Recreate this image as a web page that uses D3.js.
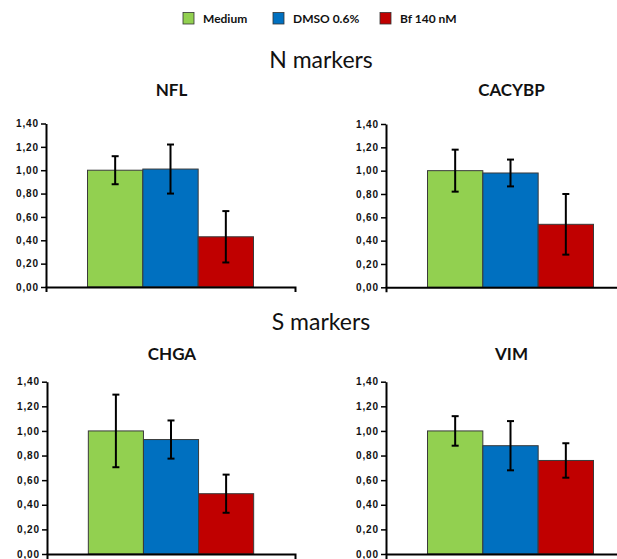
<!DOCTYPE html>
<html>
<head>
<meta charset="utf-8">
<script src="https://cdn.jsdelivr.net/npm/d3@7"></script>
<style>
  html, body { margin: 0; padding: 0; background: #fff; }
  svg { display: block; }
</style>
</head>
<body>
<script>
// Relative expression of neuronal (N) and substrate-adherent (S) markers
const seriesNames = ["Medium", "DMSO 0.6%", "Bf 140 nM"];
const seriesColors = ["#92d050", "#0070c0", "#c00000"];
const markers = ["NFL", "CACYBP", "CHGA", "VIM"];
const groupTitles = ["N markers", "S markers"];

// Mean fold change per marker, one array per condition
const mediumMean = [1.00, 1.00, 1.00, 1.00];
const dmsoMean   = [1.01, 0.98, 0.93, 0.88];
const bfMean     = [0.43, 0.54, 0.49, 0.76];
// Standard deviation per marker
const mediumSd = [0.12, 0.18, 0.295, 0.12];
const dmsoSd   = [0.21, 0.115, 0.155, 0.20];
const bfSd     = [0.22, 0.26, 0.155, 0.14];

const yTicks = [0, 0.2, 0.4, 0.6, 0.8, 1.0, 1.2, 1.4];

const W = 617, H = 559;
const svg = d3.select("body").append("svg").attr("width", W).attr("height", H);

const titleFont = "Lato, 'Open Sans', sans-serif";
const tickFont = "'Liberation Sans', Arial, sans-serif";

// Legend
const legendX = [183, 273, 380];
const legend = svg.append("g");
seriesNames.forEach((name, i) => {
  legend.append("rect")
    .attr("x", legendX[i]).attr("y", 12.5).attr("width", 11).attr("height", 11.5)
    .attr("fill", seriesColors[i]).attr("stroke", "#333").attr("stroke-width", 0.8);
  legend.append("text")
    .attr("x", legendX[i] + 20).attr("y", 22.5)
    .attr("font-family", titleFont).attr("font-weight", "bold")
    .attr("font-size", 12).attr("fill", "#111").text(name);
});

// Section titles
[68, 330].forEach((y, i) => {
  svg.append("text").attr("x", 321).attr("y", y).attr("text-anchor", "middle")
    .attr("font-family", titleFont).attr("font-size", 23)
    .attr("fill", "#111").text(groupTitles[i]);
});

// Plot area for each marker
const panels = [
  { x0: 46, x1: 295, yTop: 123.5, yBot: 287, titleY: 96 },
  { x0: 386, x1: 635, yTop: 124, yBot: 287.3, titleY: 96 },
  { x0: 47, x1: 295, yTop: 381.7, yBot: 554, titleY: 360 },
  { x0: 386, x1: 635, yTop: 381.7, yBot: 554, titleY: 360 }
];

const means = [mediumMean, dmsoMean, bfMean];
const sds = [mediumSd, dmsoSd, bfSd];

markers.forEach((marker, m) => {
  const p = panels[m];
  const g = svg.append("g");

  const y = d3.scaleLinear().domain([0, 1.4]).range([p.yBot, p.yTop]);
  const xOuter = d3.scaleBand().domain([marker]).range([p.x0, p.x1]).paddingOuter(0.2).paddingInner(0.2);
  const xInner = d3.scaleBand().domain(seriesNames).range([0, xOuter.bandwidth()]);

  const rows = seriesNames.map((s, i) => ({ s, i, v: means[i][m], sd: sds[i][m] }));

  // Bars
  g.selectAll("rect.bar").data(rows).join("rect")
    .attr("class", "bar")
    .attr("x", d => xOuter(marker) + xInner(d.s))
    .attr("width", xInner.bandwidth())
    .attr("y", d => y(d.v))
    .attr("height", d => y(0) - y(d.v))
    .attr("fill", d => seriesColors[d.i])
    .attr("stroke", "#3a3a3a").attr("stroke-width", 1);

  // Error bars (mean ± SD)
  const cx = d => xOuter(marker) + xInner(d.s) + xInner.bandwidth() / 2;
  const eb = g.selectAll("g.err").data(rows).join("g").attr("class", "err")
    .attr("stroke", "#000").attr("stroke-width", 2);
  eb.append("line").attr("x1", cx).attr("x2", cx)
    .attr("y1", d => y(d.v + d.sd)).attr("y2", d => y(d.v - d.sd));
  eb.append("line").attr("x1", d => cx(d) - 3.5).attr("x2", d => cx(d) + 3.5)
    .attr("y1", d => y(d.v + d.sd)).attr("y2", d => y(d.v + d.sd));
  eb.append("line").attr("x1", d => cx(d) - 3.5).attr("x2", d => cx(d) + 3.5)
    .attr("y1", d => y(d.v - d.sd)).attr("y2", d => y(d.v - d.sd));

  // Y axis
  const yAxis = d3.axisLeft(y).tickValues(yTicks)
    .tickFormat(d => d3.format(".2f")(d).replace(".", ","))
    .tickSize(5).tickPadding(2).tickSizeOuter(0);
  const ya = g.append("g").attr("transform", `translate(${p.x0},0)`).call(yAxis);
  ya.select(".domain").attr("stroke", "#000").attr("stroke-width", 2);
  ya.selectAll(".tick line").attr("stroke", "#000").attr("stroke-width", 1.5);
  ya.selectAll(".tick text")
    .attr("font-family", tickFont)
    .attr("font-weight", "bold").attr("font-size", 10)
    .attr("letter-spacing", "0.9px").attr("fill", "#111");

  // X axis: a baseline with end ticks only
  const xAxis = d3.axisBottom(d3.scaleLinear().domain([0, 1]).range([p.x0, p.x1]))
    .tickValues([]).tickSizeOuter(5);
  const xa = g.append("g").attr("transform", `translate(0,${p.yBot})`).call(xAxis);
  xa.select(".domain").attr("stroke", "#000").attr("stroke-width", 2);

  // Marker title, centred over the bar group
  g.append("text")
    .attr("x", xOuter(marker) + xOuter.bandwidth() / 2 + 1)
    .attr("y", p.titleY).attr("text-anchor", "middle")
    .attr("font-family", titleFont).attr("font-weight", "bold")
    .attr("font-size", 17).attr("fill", "#111").text(marker);
});
</script>
</body>
</html>
